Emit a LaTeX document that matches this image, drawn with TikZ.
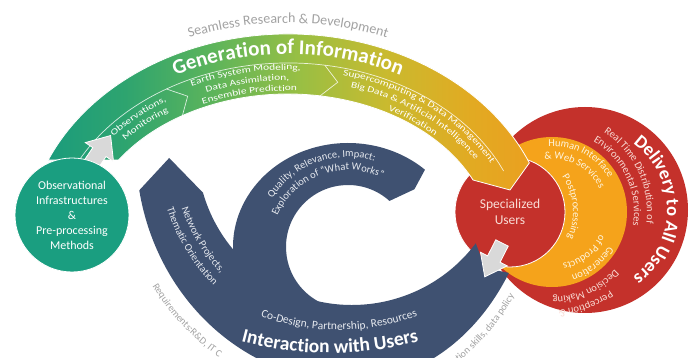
\documentclass[tikz,border=0pt]{standalone}
\usepackage{fontspec}
\setmainfont{Carlito}
\newfontfamily\widefont[FakeStretch=1.3]{Carlito}
\usetikzlibrary{calc,decorations.text}

\definecolor{navy}{HTML}{3F5171}
\definecolor{delivred}{HTML}{C4312B}
\definecolor{postorange}{HTML}{F5A31B}
\definecolor{obsteal}{HTML}{1A9E80}
\definecolor{arrowgray}{HTML}{D9D9D9}
\definecolor{notegray}{HTML}{A2A2A2}
\definecolor{pinktext}{HTML}{F9DCD5}
\definecolor{creamtext}{HTML}{FFF5DE}
\definecolor{navytext}{HTML}{E6E9EF}
\definecolor{band1}{HTML}{1B9C7C}
\definecolor{band2}{HTML}{2EA46F}
\definecolor{band3}{HTML}{5CB45B}
\definecolor{band4}{HTML}{98BF44}
\definecolor{band5}{HTML}{C9BA2F}
\definecolor{band6}{HTML}{E2AA22}
\definecolor{band7}{HTML}{EAA020}

\pgfdeclarehorizontalshading{bandgrad}{100bp}{%
  color(0bp)=(band1); color(25bp)=(band1); color(33bp)=(band2);
  color(42bp)=(band3); color(51bp)=(band4); color(60bp)=(band5);
  color(69bp)=(band6); color(75bp)=(band7); color(100bp)=(band7)}

\newcommand\titlefont{\fontsize{21}{21}\selectfont\bfseries}
\newcommand\segfont{\widefont\fontsize{8.8}{8.8}\selectfont}
\newcommand\notefont{\fontsize{14}{14}\selectfont}
\newcommand\ringfont{\fontsize{10.5}{10.5}\selectfont}
\newcommand\loopfont{\fontsize{10.5}{10.5}\selectfont}
\newcommand\smallnote{\fontsize{10}{10}\selectfont}

\begin{document}
\begin{tikzpicture}[x=1pt, y=1pt,
  ringnode/.style={circle, inner sep=0pt, align=center},
  arctext/.style={decorate, decoration={text along path, text align=center, text color=#1}},
  divider/.style={draw=white, line width=0.7pt, opacity=0.8},
  blockarrow/.style={fill=arrowgray, draw=white, line width=0.8pt}
]
\useasboundingbox (0,0) rectangle (694,-358);
\clip (0,0) rectangle (694,-358);
\fill[white] (0,0) rectangle (694,-358);

% centres of the big arcs
\coordinate (arch) at (288,-245);
\coordinate (loop) at (352,-150);
\coordinate (curl) at (348,-247);
\coordinate (codesign) at (339,-100);
\coordinate (interact) at (330,-3);

% delivery rings
\node[ringnode, fill=delivred, minimum size=206pt] (deliv) at (585,-210) {};
\node[ringnode, fill=postorange, minimum size=150pt] (post) at (552,-212) {};
\node[ringnode, fill=delivred, draw=white, line width=0.8pt, minimum size=110pt,
      text=pinktext, font=\fontsize{13.5}{16}\selectfont] (spec) at (510,-212) {Specialized\\Users};

% generation band
\path[shade, shading=bandgrad, draw=white, line width=0.8pt]
  ($(arch)+(156.25:262 and 211)$) arc[start angle=156.25, end angle=22.9, x radius=262, y radius=211]
  -- (510,-190)
  -- ($(arch)+(25.5:205 and 151)$) arc[start angle=25.5, end angle=145.7, x radius=205, y radius=151]
  -- cycle;
\path[divider] ($(arch)+(152:236 and 182)$) arc[start angle=152, end angle=24, x radius=236, y radius=182];
\path[divider] ($(arch)+(121:236 and 182)$) -- ($(arch)+(117:221 and 167)$) -- ($(arch)+(121:205 and 151)$);
\path[divider] ($(arch)+(81:236 and 182)$) -- ($(arch)+(77:221 and 167)$) -- ($(arch)+(81:205 and 151)$);

\path[arctext=notegray, decoration={text={|\notefont|Seamless Research {\&} Development}}]
  ($(arch)+(128:274 and 222)$) arc[start angle=128, end angle=52, x radius=274, y radius=222];
\path[arctext=white, decoration={text={|\titlefont|Generation of Information}}]
  ($(arch)+(142:245 and 191)$) arc[start angle=142, end angle=38, x radius=245, y radius=191];
\path[arctext=white, decoration={text={|\segfont|Observations,}}]
  ($(arch)+(147:225 and 171)$) arc[start angle=147, end angle=117, x radius=225, y radius=171];
\path[arctext=white, decoration={text={|\segfont|Monitoring}}]
  ($(arch)+(147:214.5 and 160.5)$) arc[start angle=147, end angle=117, x radius=214.5, y radius=160.5];
\path[arctext=white, decoration={text={|\segfont|Earth System Modeling,}}]
  ($(arch)+(121:229 and 175)$) arc[start angle=121, end angle=81, x radius=229, y radius=175];
\path[arctext=white, decoration={text={|\segfont|Data Assimilation,}}]
  ($(arch)+(121:218.5 and 164.5)$) arc[start angle=121, end angle=81, x radius=218.5, y radius=164.5];
\path[arctext=white, decoration={text={|\segfont|Ensemble Prediction}}]
  ($(arch)+(121:208 and 154)$) arc[start angle=121, end angle=81, x radius=208, y radius=154];
\path[arctext=white, decoration={text={|\segfont|Supercomputing {\&} Data Management}}]
  ($(arch)+(80:229 and 175)$) arc[start angle=80, end angle=23, x radius=229, y radius=175];
\path[arctext=white, decoration={text={|\segfont|Big Data {\&} Artificial Intelligence}}]
  ($(arch)+(80:218.5 and 164.5)$) arc[start angle=80, end angle=23, x radius=218.5, y radius=164.5];
\path[arctext=white, decoration={text={|\segfont|Verification}}]
  ($(arch)+(80:208 and 154)$) arc[start angle=80, end angle=23, x radius=208, y radius=154];

% observation circle with its arrow
\begin{scope}[shift={(86,-172)}, rotate=56]
  \path[blockarrow] (0,-8) -- (24,-8) -- (24,-17) -- (44,0) -- (24,17) -- (24,8) -- (0,8) -- cycle;
\end{scope}
\node[ringnode, fill=obsteal, draw=white, line width=0.8pt, minimum size=114pt,
      text=white, font=\fontsize{12}{15}\selectfont] (obs) at (72,-215)
      {Observational\\Infrastructures\\\&\\Pre-processing\\Methods};

% interaction loop
\path[fill=navy]
  ($(loop)+(190:216 and 232)$) arc[start angle=190, end angle=270, x radius=216, y radius=232]
  arc[start angle=270, end angle=328, x radius=185, y radius=232]
  -- (485,-268)
  -- ($(loop)+(323:155)$) arc[start angle=323, end angle=196, radius=155]
  -- ($(loop)+(182.5:183)$)
  -- cycle;
\path[fill=navy]
  ($(curl)+(280:115 and 104)$) arc[start angle=280, end angle=48, x radius=115, y radius=104]
  -- ($(curl)+(41:88)$)
  -- ($(curl)+(48:62)$) arc[start angle=48, end angle=280, radius=62]
  -- cycle;
\begin{scope}[shift={(502,-243)}, rotate=-117]
  \path[blockarrow] (0,-7) -- (18,-7) -- (18,-15) -- (38,0) -- (18,15) -- (18,7) -- (0,7) -- cycle;
\end{scope}

\path[arctext=navytext, decoration={text={|\loopfont|Network Projects,}}]
  ($(loop)+(190:180)$) arc[start angle=190, end angle=232, radius=180];
\path[arctext=navytext, decoration={text={|\loopfont|Thematic Orientation}}]
  ($(loop)+(188:194)$) arc[start angle=188, end angle=234, radius=194];
\path[arctext=navytext, decoration={text={|\loopfont|Quality, Relevance, Impact:}}]
  ($(curl)+(168:90)$) arc[start angle=168, end angle=52, radius=90];
\path[arctext=navytext, decoration={text={|\loopfont|Exploration of “What Works”}}]
  ($(curl)+(168:77)$) arc[start angle=168, end angle=52, radius=77];
\path[arctext=navytext, decoration={text={|\fontsize{11.5}{11.5}\selectfont|Co-Design, Partnership, Resources}}]
  ($(codesign)+(235:230)$) arc[start angle=235, end angle=305, radius=230];
\path[arctext=white, decoration={text={|\fontsize{19.5}{19.5}\selectfont\bfseries|Interaction with Users}}]
  ($(interact)+(248:350)$) arc[start angle=248, end angle=292, radius=350];

% notes below the loop
\path[arctext=notegray, decoration={text align=left, text={|\smallnote|Requirements:R{\&}D, IT C}}]
  ($(loop)+(213:238 and 250)$) arc[start angle=213, end angle=245, x radius=238, y radius=250];
\path[arctext=notegray, decoration={text align=right, text={|\smallnote|ation skills, data policy}}]
  ($(loop)+(290:200 and 250)$) arc[start angle=290, end angle=324.3, x radius=200, y radius=250];

% texts on the delivery rings
\path[arctext=white, decoration={text={|\fontsize{18.5}{18.5}\selectfont\bfseries|Delivery to All Users}}]
  ($(deliv.center)+(62:82)$) arc[start angle=62, end angle=-62, radius=82];
\path[arctext=pinktext, decoration={text={|\ringfont|Real Time Distribution of}}]
  ($(post.center)+(72:95)$) arc[start angle=72, end angle=-22, radius=95];
\path[arctext=pinktext, decoration={text={|\ringfont|Environmental Services}}]
  ($(post.center)+(72:82)$) arc[start angle=72, end angle=-22, radius=82];
\path[arctext=pinktext, decoration={text={|\ringfont|Perception {\&}}}]
  ($(post.center)+(-40:98)$) arc[start angle=-40, end angle=-100, radius=98];
\path[arctext=pinktext, decoration={text={|\ringfont|Decision Making}}]
  ($(post.center)+(-30:85)$) arc[start angle=-30, end angle=-102, radius=85];
\path[arctext=creamtext, decoration={text={|\ringfont|Human Interface}}]
  ($(post.center)+(112:66)$) arc[start angle=112, end angle=12, radius=66];
\path[arctext=creamtext, decoration={text={|\ringfont|{\&} Web Services}}]
  ($(post.center)+(112:53)$) arc[start angle=112, end angle=12, radius=53];
\path[arctext=creamtext, decoration={text={|\ringfont|Generation}}]
  ($(post.center)+(-18:66)$) arc[start angle=-18, end angle=-86, radius=66];
\path[arctext=creamtext, decoration={text={|\ringfont|of Products}}]
  ($(post.center)+(-18:53)$) arc[start angle=-18, end angle=-86, radius=53];
\path[arctext=creamtext, decoration={text={|\ringfont|Postprocessing}}]
  ($(spec.center)+(42:63)$) arc[start angle=42, end angle=-32, radius=63];
\end{tikzpicture}
\end{document}
